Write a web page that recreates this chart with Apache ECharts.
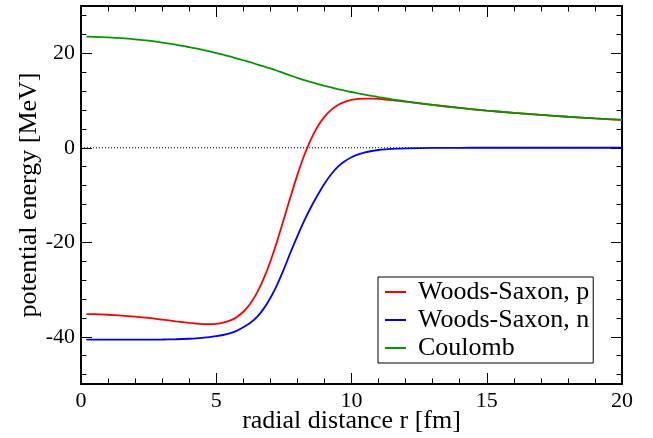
<!DOCTYPE html>
<html>
<head>
<meta charset="utf-8">
<script src="https://cdn.jsdelivr.net/npm/echarts@6/dist/echarts.min.js"></script>
<style>
html,body{margin:0;padding:0;background:#fff;}
#c{width:653px;height:438px;}
</style>
</head>
<body>
<div id="c"></div>
<script>
// radial distance r [fm]
const radius = [0.2, 0.5, 1, 1.5, 2, 2.5, 3, 3.5,
  4, 4.25, 4.5, 4.75, 5, 5.25, 5.5, 5.75, 6, 6.25, 6.5, 6.75, 7, 7.25, 7.5, 7.75, 8, 8.25, 8.5, 8.75,
  9, 9.25, 9.5, 9.75, 10, 10.25, 10.5, 10.75, 11, 11.25, 11.5, 11.75, 12,
  13, 14, 15, 16, 17, 18, 19, 20];
// Woods-Saxon, p  [MeV]
const wsProton = [-35.20, -35.23, -35.34, -35.51, -35.73, -36.01, -36.36, -36.73,
  -37.08, -37.22, -37.32, -37.34, -37.27, -37.03, -36.60, -35.85, -34.71, -33.05, -30.77, -27.76, -24.07, -19.78, -15.10, -10.31, -5.74, -1.65, 1.78, 4.50,
  6.54, 8.03, 9.05, 9.71, 10.11, 10.33, 10.41, 10.40, 10.33, 10.21, 10.06, 9.90, 9.74,
  9.06, 8.42, 7.87, 7.38, 6.94, 6.56, 6.21, 5.90];
// Woods-Saxon, n  [MeV]
const wsNeutron = [-40.60, -40.60, -40.60, -40.60, -40.60, -40.60, -40.58, -40.53,
  -40.42, -40.34, -40.22, -40.08, -39.88, -39.63, -39.27, -38.75, -38.00, -37.10, -35.85, -34.10, -31.80, -29.00, -25.70, -22.10, -18.70, -15.50, -12.60, -10.00,
  -7.60, -5.60, -4.00, -2.85, -2.00, -1.42, -0.98, -0.69, -0.48, -0.34, -0.24, -0.17, -0.12,
  -0.03, -0.01, 0, 0, 0, 0, 0, 0];
// Coulomb  [MeV]
const coulomb = [23.50, 23.47, 23.36, 23.19, 22.95, 22.65, 22.26, 21.81,
  21.29, 21.01, 20.70, 20.39, 20.05, 19.70, 19.32, 18.93, 18.52, 18.10, 17.66, 17.22, 16.78, 16.30, 15.79, 15.28, 14.78, 14.31, 13.88, 13.49,
  13.11, 12.76, 12.42, 12.10, 11.80, 11.51, 11.24, 10.98, 10.73, 10.49, 10.26, 10.04, 9.83,
  9.08, 8.43, 7.87, 7.38, 6.94, 6.56, 6.21, 5.90];
// zero reference line
const zeroLineR = [0, 20];
const zeroLineV = [0, 0];
// ticks
const yMajorTicks = [-40, -20, 0, 20];
const yMinorTicks = [-48, -44, -36, -32, -28, -24, -16, -12, -8, -4, 4, 8, 12, 16, 24, 28];
const seriesNames = ['Woods-Saxon, p', 'Woods-Saxon, n', 'Coulomb'];

const pair = (xs, ys) => xs.map((x, i) => [x, ys[i]]);
const FONT = "'Liberation Serif', 'Times New Roman', serif";
const black = '#000';

function xAx(pos, labels) {
  return {
    type: 'value', position: pos, min: 0, max: 20, interval: 5,
    axisLine: {show: true, onZero: false, lineStyle: {color: black, width: 2}},
    axisTick: {show: true, inside: true, length: 11, lineStyle: {color: black, width: 1}},
    minorTick: {show: true, splitNumber: 5, length: 5.5, lineStyle: {color: black, width: 1}},
    axisLabel: {show: labels, margin: 6, fontFamily: FONT, fontSize: 22, color: black},
    splitLine: {show: false}, minorSplitLine: {show: false},
    name: labels ? 'radial distance r [fm]' : '',
    nameLocation: 'middle', nameGap: 24, nameMoveOverlap: false,
    nameTextStyle: {fontFamily: FONT, fontSize: 26, color: black}
  };
}
function yAx(pos, major, labels) {
  return {
    type: 'value', position: pos, min: -50, max: 30,
    axisLine: {show: major, onZero: false, lineStyle: {color: black, width: 2}},
    axisTick: {show: true, inside: true, length: major ? 11 : 5.5,
      customValues: major ? yMajorTicks : yMinorTicks, lineStyle: {color: black, width: 1}},
    axisLabel: {show: labels, customValues: yMajorTicks, margin: 6, fontFamily: FONT, fontSize: 22, color: black},
    splitLine: {show: false},
    name: labels ? 'potential energy [MeV]' : '',
    nameLocation: 'middle', nameGap: 39, nameMoveOverlap: false,
    nameTextStyle: {fontFamily: FONT, fontSize: 26, color: black}
  };
}

const chart = echarts.init(document.getElementById('c'), null, {renderer: 'canvas'});
chart.setOption({
  animation: false,
  backgroundColor: '#fff',
  grid: {left: 81, right: 31, top: 6, bottom: 54, containLabel: false, outerBoundsMode: 'none'},
  xAxis: [xAx('bottom', true), xAx('top', false)],
  yAxis: [yAx('left', true, true), yAx('left', false, false), yAx('right', true, false), yAx('right', false, false)],
  legend: {
    data: seriesNames,
    orient: 'vertical', left: 378, top: 277,
    padding: [2, 4, 2, 7], itemGap: 2,
    icon: 'path://M0,0H21V2H0Z M28,0L28,2', itemWidth: 28, itemHeight: 2,
    borderColor: black, borderWidth: 1, backgroundColor: '#fff',
    textStyle: {fontFamily: FONT, fontSize: 26, color: black, lineHeight: 25.5}
  },
  series: [
    {name: 'zero', type: 'line', data: pair(zeroLineR, zeroLineV), symbol: 'none', silent: true,
     lineStyle: {color: black, width: 1, type: [1, 2]}},
    {name: seriesNames[0], type: 'line', data: pair(radius, wsProton), symbol: 'none', smooth: 0.3,
     lineStyle: {color: '#ff0000', width: 1.8}, itemStyle: {color: '#ff0000'}},
    {name: seriesNames[1], type: 'line', data: pair(radius, wsNeutron), symbol: 'none', smooth: 0.3,
     lineStyle: {color: '#0000ff', width: 1.8}, itemStyle: {color: '#0000ff'}},
    {name: seriesNames[2], type: 'line', data: pair(radius, coulomb), symbol: 'none', smooth: 0.3,
     lineStyle: {color: '#009900', width: 1.8}, itemStyle: {color: '#009900'}}
  ]
});
</script>
</body>
</html>
